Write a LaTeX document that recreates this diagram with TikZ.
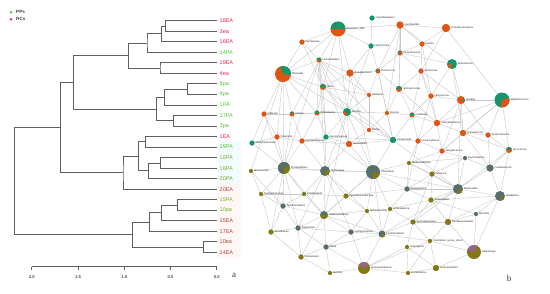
\documentclass[tikz,border=0pt]{standalone}
\usepackage{fontspec}
\setmainfont{Liberation Serif}
\setsansfont{Liberation Sans}
\usepackage{tikz}
\usetikzlibrary{positioning,calc}
\definecolor{dendgray}{RGB}{95,95,95}
\definecolor{edgegray}{RGB}{200,200,200}
\definecolor{eacol}{RGB}{228,40,78}
\definecolor{eacolb}{RGB}{172,72,62}
\definecolor{pacol}{RGB}{78,200,48}
\definecolor{pacolb}{RGB}{118,178,40}
\definecolor{grn}{RGB}{22,150,104}
\definecolor{orng}{RGB}{224,84,20}
\definecolor{olv}{RGB}{132,120,22}
\definecolor{slt}{RGB}{88,110,104}
\definecolor{prpl}{RGB}{150,102,140}
\tikzset{
  dendro/.style={draw=dendgray,line width=0.8pt},
  leaflab/.style={anchor=west,inner sep=0pt,font=\sffamily\fontsize{5.5}{6}\selectfont},
  ticklab/.style={inner sep=0pt,font=\sffamily\bfseries\fontsize{4.2}{5}\selectfont,text=black!70},
  legtext/.style={anchor=west,inner sep=0pt,font=\sffamily\bfseries\fontsize{4.6}{5}\selectfont,text=black!75},
  netedge/.style={draw=edgegray,line width=0.4pt},
  netlab/.style={anchor=west,inner sep=0pt,font=\sffamily\fontsize{2.6}{3}\selectfont,text=black!85},
  panlab/.style={inner sep=0pt,font=\rmfamily\fontsize{9}{10}\selectfont,text=black!80}
}

\begin{document}
\begin{tikzpicture}[x=1pt,y=-1pt]
\useasboundingbox (0,0) rectangle (550,293);

% legend
\fill[pacol] (11,12.3) circle[radius=1.4pt];
\fill[eacol] (11,19.3) circle[radius=1.4pt];
\node[legtext] (legpp) at (16,12.3) {PPs};
\node[legtext] (legrc) at (16,19.3) {RCs};

% faint label backgrounds
\fill[cyan!5] (218,141) rectangle (241,184);
\fill[pink!14] (218,184) rectangle (241,258);

% leaves
\foreach \lab/\col [count=\i from 0] in {18EA/eacol,3ea/eacol,16EA/eacol,14PA/pacol,19EA/eacol,4ea/eacol,
  8pa/pacol,4pa/pacol,1PA/pacol,17PA/pacol,3pa/pacol,1EA/eacol,19PA/pacol,16PA/pacolb,18PA/pacolb,
  20PA/pacolb,20EA/eacolb,15PA/pacolb,10pa/pacolb,15EA/eacolb,17EA/eacolb,10ea/eacolb,14EA/eacolb}{
  \coordinate (l\i) at (216.7,{20.7+10.53*\i});
  \node[leaflab,text=\col] (leaf\i) at (219.5,{20.7+10.53*\i}) {\lab};
}

% merges
\coordinate (m18) at (165.7,25.9);
\coordinate (m16) at (161.7,33.8);
\coordinate (m14) at (147,43);
\coordinate (m19) at (160,68.1);
\coordinate (mea) at (128.7,55.6);
\coordinate (m8) at (187.3,89.2);
\coordinate (m1p) at (164.3,97.1);
\coordinate (m17) at (173.7,120.8);
\coordinate (mpa) at (156.7,109);
\coordinate (mtop) at (73.3,82.3);
\coordinate (m1e) at (145.3,141.8);
\coordinate (m16p) at (160.3,162.9);
\coordinate (m20p) at (148.3,170.8);
\coordinate (mmid) at (138.3,156.3);
\coordinate (m20e) at (123,172.7);
\coordinate (mup) at (60.3,127.5);
\coordinate (m15) at (177.7,205);
\coordinate (m15e) at (161.7,212.8);
\coordinate (m17e) at (149.3,222);
\coordinate (m10) at (203.3,247);
\coordinate (mlow) at (132.3,234);
\coordinate (root) at (14.7,181);

\draw[dendro] (l0) -| (m18) |- (l1);
\draw[dendro] (m18) -| (m16) |- (l2);
\draw[dendro] (m16) -| (m14) |- (l3);
\draw[dendro] (l4) -| (m19) |- (l5);
\draw[dendro] (m14) -| (mea) |- (m19);
\draw[dendro] (l6) -| (m8) |- (l7);
\draw[dendro] (m8) -| (m1p) |- (l8);
\draw[dendro] (l9) -| (m17) |- (l10);
\draw[dendro] (m1p) -| (mpa) |- (m17);
\draw[dendro] (mea) -| (mtop) |- (mpa);
\draw[dendro] (l11) -| (m1e) |- (l12);
\draw[dendro] (l13) -| (m16p) |- (l14);
\draw[dendro] (m16p) -| (m20p) |- (l15);
\draw[dendro] (m1e) -| (mmid) |- (m20p);
\draw[dendro] (mmid) -| (m20e) |- (l16);
\draw[dendro] (mtop) -| (mup) |- (m20e);
\draw[dendro] (l17) -| (m15) |- (l18);
\draw[dendro] (m15) -| (m15e) |- (l19);
\draw[dendro] (m15e) -| (m17e) |- (l20);
\draw[dendro] (l21) -| (m10) |- (l22);
\draw[dendro] (m17e) -| (mlow) |- (m10);
\draw[dendro] (mup) -| (root) |- (mlow);

% axis
\coordinate (ax0) at (31.7,266.7);
\coordinate (ax4) at (216.7,266.7);
\draw[dendro,line width=0.6pt] (ax0) -- (ax4);
\foreach \v [count=\k from 0] in {2.0,1.5,1.0,0.5,0.0}{
  \draw[dendro,line width=0.6pt] ({31.7+46.25*\k},266.7) -- ++(0,2.8);
  \node[ticklab] (tick\k) at ({31.7+46.25*\k},277) {\v};
}
\node[panlab] (pana) at (234,275.5) {a};

% network
\foreach \nm/\x/\y in {t1/338/29,t2/372/18,t3/400/25,t4/302/42,t5/371/46,t6/400/53,t7/319/60,t8/283/74,
  t9/350/73,t10/378/71,t11/399/89,t12/323/87,t13/369/95,t14/446/28,t15/422/44,t16/452/64,t17/421/71,
  t18/431/96,t19/461/100,t20/502/100,t21/264/114,t22/292/114,t23/317/113,t24/347/112,t25/387/113,
  t26/277/137,t27/302/141,t28/326/137,t29/349/144,t30/369/130,t31/393/140,t32/412/115,t33/437/123,
  t34/463/133,t35/488/135,t36/418/141,t37/442/151,t38/509/150,t39/252/143,
  b0/251/171,b1/284/168,b2/325/171,b3/373/172,b4/261/194,b5/304/194,b6/346/196,b7/407/189,b8/409/163,
  b9/465/158,b10/432/174,b11/490/168,b12/458/189,b13/500/196,b14/283/206,b15/324/215,b16/367/211,
  b17/390/209,b18/298/228,b19/271/232,b20/351/232,b21/382/234,b22/326/247,b23/301/257,b24/330/273,
  b25/364/268,b26/408/273,b27/431/200,b28/476/214,b29/413/222,b30/448/222,b31/430/241,b32/407/247,
  b33/474/252,b34/436/268}
  \coordinate (\nm) at (\x,\y);

\foreach \a/\b in {t1/t4,t1/t7,t1/t12,t1/t5,t1/t3,t1/t9,t1/t24,t1/t8,t2/t5,t3/t6,t3/t10,t3/t16,t3/t11,
  t3/t25,t4/t8,t4/t7,t4/t12,t5/t10,t5/t9,t5/t24,t6/t10,t6/t16,t6/t11,t6/t17,t7/t8,t7/t12,t7/t9,t7/t24,
  t7/t22,t7/t23,t7/t28,t7/t29,t7/t13,t7/t31,t8/t12,t8/t21,t8/t22,t8/t23,t8/t26,t8/t24,t8/b1,t9/t12,
  t9/t13,t9/t24,t9/t10,t10/t11,t10/t13,t10/t25,t10/t31,t11/t17,t11/t32,t11/t33,t11/t25,t12/t24,
  t12/t23,t12/t28,t12/t13,t12/t31,t13/t24,t13/t30,t14/t15,t14/t20,t14/t3,t14/t17,t15/t17,t15/t3,
  t15/t6,t15/t18,t16/t18,t16/t19,t16/t34,t17/t18,t17/t19,t17/t33,t17/t32,t18/t19,t18/t33,t18/t32,
  t18/t36,t19/t20,t19/t33,t19/t34,t19/t35,t19/t37,t19/b12,t20/t34,t20/t35,t20/t38,t20/t37,t20/t33,
  t21/t26,t21/t22,t21/t39,t21/b1,t22/t23,t22/t27,t22/t24,t23/t24,t23/t28,t23/t27,t24/t28,t24/t29,
  t24/t30,t24/t31,t24/t25,t24/b3,t24/b2,t25/t30,t25/t31,t25/t32,t26/t27,t26/t39,t26/b1,t27/t28,
  t27/t29,t27/b1,t28/t29,t28/t31,t28/b2,t29/t30,t29/t31,t29/b3,t30/t31,t31/t36,t31/t32,t31/b3,
  t32/t36,t32/t33,t33/t36,t33/t34,t33/t37,t34/t35,t34/t37,t34/t38,t34/b11,t35/t38,t35/b11,t36/t37,
  t36/b8,t37/b9,t37/b8,t38/b11,t38/b13,t38/b12,t8/b0,t39/b1,t22/b1,t24/b15,t31/b12,t36/b7,t37/b10,
  t9/b3,t7/b1,t7/b2,t27/b2,t28/b3,t29/b2,
  b0/b1,b0/b4,b0/b14,b1/b2,b1/b4,b1/b5,b1/b14,b1/b15,b1/b18,b1/b19,b1/b3,b2/b3,b2/b5,b2/b6,b2/b15,
  b2/b16,b2/b18,b2/b20,b3/b6,b3/b8,b3/b7,b3/b16,b3/b17,b3/b21,b3/b15,b3/b12,b4/b14,b4/b19,b4/b5,
  b5/b14,b5/b15,b5/b6,b6/b15,b6/b16,b6/b7,b7/b8,b7/b10,b7/b12,b7/b17,b7/b27,b8/b9,b8/b10,b8/b12,
  b9/b11,b9/b12,b9/b10,b10/b12,b10/b27,b10/b29,b11/b12,b11/b13,b12/b13,b12/b27,b12/b29,b12/b30,
  b12/b21,b13/b28,b13/b30,b13/b33,b13/b27,b14/b15,b14/b18,b14/b19,b15/b16,b15/b18,b15/b20,b15/b21,
  b15/b22,b15/b23,b16/b17,b16/b21,b16/b20,b17/b21,b17/b27,b17/b29,b18/b19,b18/b22,b18/b20,b18/b23,
  b19/b23,b20/b21,b20/b22,b20/b25,b21/b25,b21/b29,b21/b31,b21/b22,b22/b23,b22/b24,b22/b25,b23/b24,
  b24/b25,b25/b26,b25/b31,b25/b32,b26/b31,b26/b32,b26/b34,b27/b29,b27/b30,b27/b28,b28/b30,b28/b33,
  b29/b30,b29/b31,b29/b32,b30/b31,b30/b33,b31/b34,b31/b33,b32/b34,b33/b34}
  \draw[netedge] (\a) -- (\b);

\foreach \nm/\rad/\cb/\cw/\sa/\ea/\txt in {
  t1/7.5/orng/grn/-5/180/Rhizobium\_Nfix,t2/2.5/grn/grn/0/360/Cryptobacterium,
  t3/3.5/orng/orng/0/360/Lysinibacillus,t4/2.5/orng/orng/0/360/Frankiaceae,
  t5/2.5/grn/grn/0/360/Hydromonas,t6/2.5/orng/grn/60/160/Pseudomonas,
  t7/2.5/orng/grn/0/180/Lactobacillales,t8/8/orng/grn/-10/110/Weissella,
  t9/3.5/orng/orng/0/360/Brevibacterium,t10/2.5/orng/grn/90/200/Paracoccus,
  t11/3/orng/grn/0/180/Sphingomonas,t12/3/orng/grn/0/180/Vibrio,
  t13/2/orng/orng/0/360/Ralstonia,t14/4/orng/orng/0/360/Actinomycetospora,
  t15/2.5/orng/orng/0/360/Kurthia,t16/5/grn/orng/190/250/Enterobacter,
  t17/2.5/orng/orng/0/360/Acidovorax,t18/2.5/orng/orng/0/360/Lactococcus,
  t19/4/orng/grn/-30/10/Serratia,t20/7.5/grn/orng/-100/15/Staphylococcus,
  t21/2.5/orng/orng/0/360/Gallicola,t22/2.5/orng/grn/60/150/Dietzia,
  t23/2.5/orng/grn/0/180/Rhodobacter,t24/4/grn/orng/180/250/Bacillus,
  t25/2/orng/orng/0/360/Kocuria,t26/2.5/orng/orng/0/360/Tissierella,
  t27/2.5/orng/orng/0/360/Paenalcaligenes,t28/2.5/grn/grn/0/360/Aerococcaceae,
  t29/3/orng/orng/0/360/Globicatella,t30/2/orng/orng/0/360/Rothia,
  t31/3/grn/grn/0/360/Comamonas,t32/2.5/orng/grn/0/180/Facklamia,
  t33/3/orng/orng/0/360/Corynebacterium,t34/3/orng/orng/0/360/Acinetobacter,
  t35/2.5/orng/orng/0/360/Ignatzschineria,t36/2.5/orng/orng/0/360/Oceanisphaera,
  t37/2.5/orng/orng/0/360/Jeotgalicoccus,t38/3/orng/grn/30/170/Aerococcus,
  t39/2.5/grn/grn/0/360/Methylobacterium,
  b0/2/olv/olv/0/360/Anaerovorax,b1/6/olv/slt/20/260/Proteiniphilum,
  b2/5/slt/olv/-90/0/Petrimonas,b3/7/slt/olv/-90/-10/Clostridium,
  b4/2/olv/olv/0/360/Syntrophomonas,b5/2/olv/olv/0/360/Fastidiosipila,
  b6/2.5/olv/olv/0/360/Pseudomonadaceae,b7/2.5/slt/slt/0/360/Erysipelothrix,
  b8/2/olv/olv/0/360/Sedimentibacter,b9/2/slt/slt/0/360/Psychrobacter,
  b10/2.5/olv/olv/0/360/Lutispora,b11/3.5/slt/slt/0/360/Fusobacterium,
  b12/5/slt/olv/-90/-20/Bacteroides,b13/5/slt/olv/-80/-40/Alkaliphilus,
  b14/2.5/slt/slt/0/360/Tepidimicrobium,b15/4/slt/olv/180/360/Caldicoprobacter,
  b16/2/olv/olv/0/360/Ruminococcus,b17/2/olv/olv/0/360/Acholeplasma,
  b18/2.5/slt/slt/0/360/Treponema,b19/2.5/olv/olv/0/360/Moheibacter,
  b20/2.5/slt/slt/0/360/Hydrogenispora,b21/3.5/slt/olv/-90/0/Lentimicrobium,
  b22/2.5/slt/slt/0/360/Gelria,b23/2.5/olv/olv/0/360/Caloramator,
  b24/2/olv/olv/0/360/Herbinix,b25/6/olv/prpl/40/150/Sporanaerobacter,
  b26/2/olv/olv/0/360/Proteiniborus,b27/2.5/olv/olv/0/360/Tissierellales,
  b28/2/slt/slt/0/360/Moorella,b29/2.5/olv/olv/0/360/Syntrophaceticus,
  b30/3/olv/olv/0/360/Tepidanaerobacter,b31/2/olv/olv/0/360/Clostridium\_sensu\_stricto,
  b32/2/olv/olv/0/360/Soehngenia,b33/7/olv/prpl/60/170/Defluviitoga,
  b34/3/olv/olv/0/360/Sulfurospirillum}{
  \fill[\cb] (\nm) circle[radius=\rad pt];
  \fill[\cw] (\nm) -- ++(\sa:\rad pt) arc[start angle=\sa,end angle=\ea,radius=\rad pt] -- cycle;
  \node[netlab] (\nm-l) at ([xshift=\rad pt+0.8pt]\nm) {\txt};
}
\node[panlab] (panb) at (509,278) {b};
\end{tikzpicture}
\end{document}
